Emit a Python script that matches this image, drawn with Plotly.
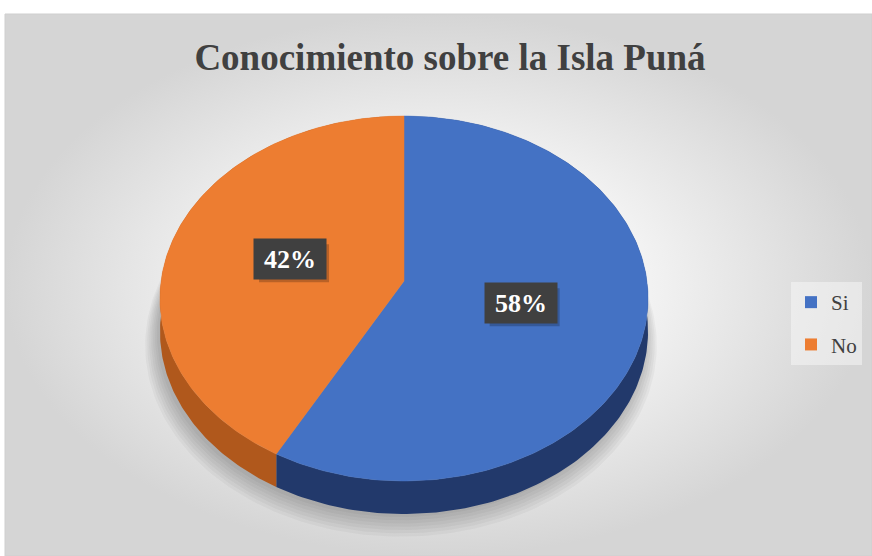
import numpy as np
import plotly.graph_objects as go

# ---------------- data ----------------
categories = ["Si", "No"]
values = [58, 42]
label_texts = ["58%", "42%"]

# ---------------- style / layout constants ----------------
W, H = 872, 556
top_colors = ["#4472C4", "#ED7D31"]
side_colors = ["#22396B", "#B0581C"]
CX, CY = 404, 281          # apex of the pie (pixel space)
A_Y, C_X, K = 180.8, 242.9, -0.0959   # perspective projection params
DEPTH = 33
FONT = "Liberation Serif"
LBL_W, LBL_H = 70, 38


def proj(theta_deg, r=1.0):
    t = np.radians(theta_deg)
    u = r * np.sin(t)
    v = -r * np.cos(t)
    d = 1 + K * v
    return CX + C_X * u / d, CY + A_Y * v / d


fig = go.Figure()

# chart-area background with radial gradient
fig.add_trace(go.Scatter(
    x=[5, W, W, 5, 5], y=[14, 14, H, H, 14], mode="lines",
    fill="toself",
    fillgradient=dict(type="radial",
                      colorscale=[[0, "#ffffff"], [0.35, "#fafafa"], [1, "#d5d5d5"]]),
    line=dict(color="#cfcfcf", width=1),
    hoverinfo="skip", showlegend=False))

# soft shadow under the pie
full = np.linspace(0, 360, 241)
for i in range(7):
    r = 1.0 + 0.008 * i
    sx, sy = proj(full, r)
    fig.add_trace(go.Scatter(
        x=sx - 3, y=sy + DEPTH + 3 + 1.5 * i, mode="lines", fill="toself",
        fillcolor="rgba(0,0,0,0.035)", line=dict(width=0),
        hoverinfo="skip", showlegend=False))

total = sum(values)
spans = [v / total * 360 for v in values]
starts = np.concatenate([[0], np.cumsum(spans)[:-1]])

# side walls
for val, s, sp, col in zip(values, starts, spans, side_colors):
    ang = np.linspace(s, s + sp, 200)
    ax, ay = proj(ang)
    xs = np.concatenate([ax, ax[::-1], ax[:1]])
    ys = np.concatenate([ay, ay[::-1] + DEPTH, ay[:1]])
    fig.add_trace(go.Scatter(x=xs, y=ys, mode="lines", fill="toself",
                             fillcolor=col, line=dict(width=0, color=col),
                             hoverinfo="skip", showlegend=False))

# top faces
for cat, val, s, sp, col in zip(categories, values, starts, spans, top_colors):
    ang = np.linspace(s, s + sp, 200)
    ax, ay = proj(ang)
    xs = np.concatenate([[CX], ax, [CX]])
    ys = np.concatenate([[CY], ay, [CY]])
    fig.add_trace(go.Scatter(x=xs, y=ys, mode="lines", fill="toself",
                             fillcolor=col, line=dict(width=0.5, color=col),
                             name=cat, hoverinfo="skip", showlegend=False))

# legend entries
for cat, col in zip(categories, top_colors):
    fig.add_trace(go.Scatter(x=[None], y=[None], mode="markers",
                             marker=dict(symbol="square", size=12, color=col),
                             name=cat, legendgroup=cat, showlegend=True))

# data labels (with a soft drop shadow drawn as a shape)
annotations = []
shapes = []
for txt, s, sp in zip(label_texts, starts, spans):
    lx, ly = proj(s + sp / 2, 0.49)
    lx, ly = float(lx), float(ly)
    shapes.append(dict(type="rect", xref="x", yref="y", layer="above",
                       x0=lx - LBL_W / 2 + 4, x1=lx + LBL_W / 2 + 4,
                       y0=ly - LBL_H / 2 + 4, y1=ly + LBL_H / 2 + 4,
                       fillcolor="rgba(0,0,0,0.22)", line=dict(width=0)))
    annotations.append(dict(
        x=lx, y=ly, xref="x", yref="y", text="<b>" + txt + "</b>",
        showarrow=False, width=LBL_W, height=LBL_H, bgcolor="#404040",
        font=dict(family=FONT, size=26, color="#ffffff")))

fig.update_layout(
    width=W, height=H, autosize=False,
    margin=dict(l=0, r=0, t=0, b=0),
    paper_bgcolor="#ffffff", plot_bgcolor="#ffffff",
    xaxis=dict(range=[0, W], visible=False, fixedrange=True),
    yaxis=dict(range=[H, 0], visible=False, fixedrange=True),
    title=dict(text="<b>Conocimiento sobre la Isla Puná</b>",
               font=dict(family=FONT, size=37, color="#404040"),
               x=450 / W, xanchor="center", y=1 - 57 / H, yanchor="middle"),
    legend=dict(x=791 / W, y=1 - 282 / H, xanchor="left", yanchor="top",
                bgcolor="rgba(245,245,245,0.55)",
                font=dict(family=FONT, size=21, color="#404040"),
                tracegroupgap=12, itemwidth=30),
    annotations=annotations,
    shapes=shapes,
    showlegend=True,
)

fig.write_html("out.html", config={"displayModeBar": False},
               post_script="document.body.style.margin='0';")
